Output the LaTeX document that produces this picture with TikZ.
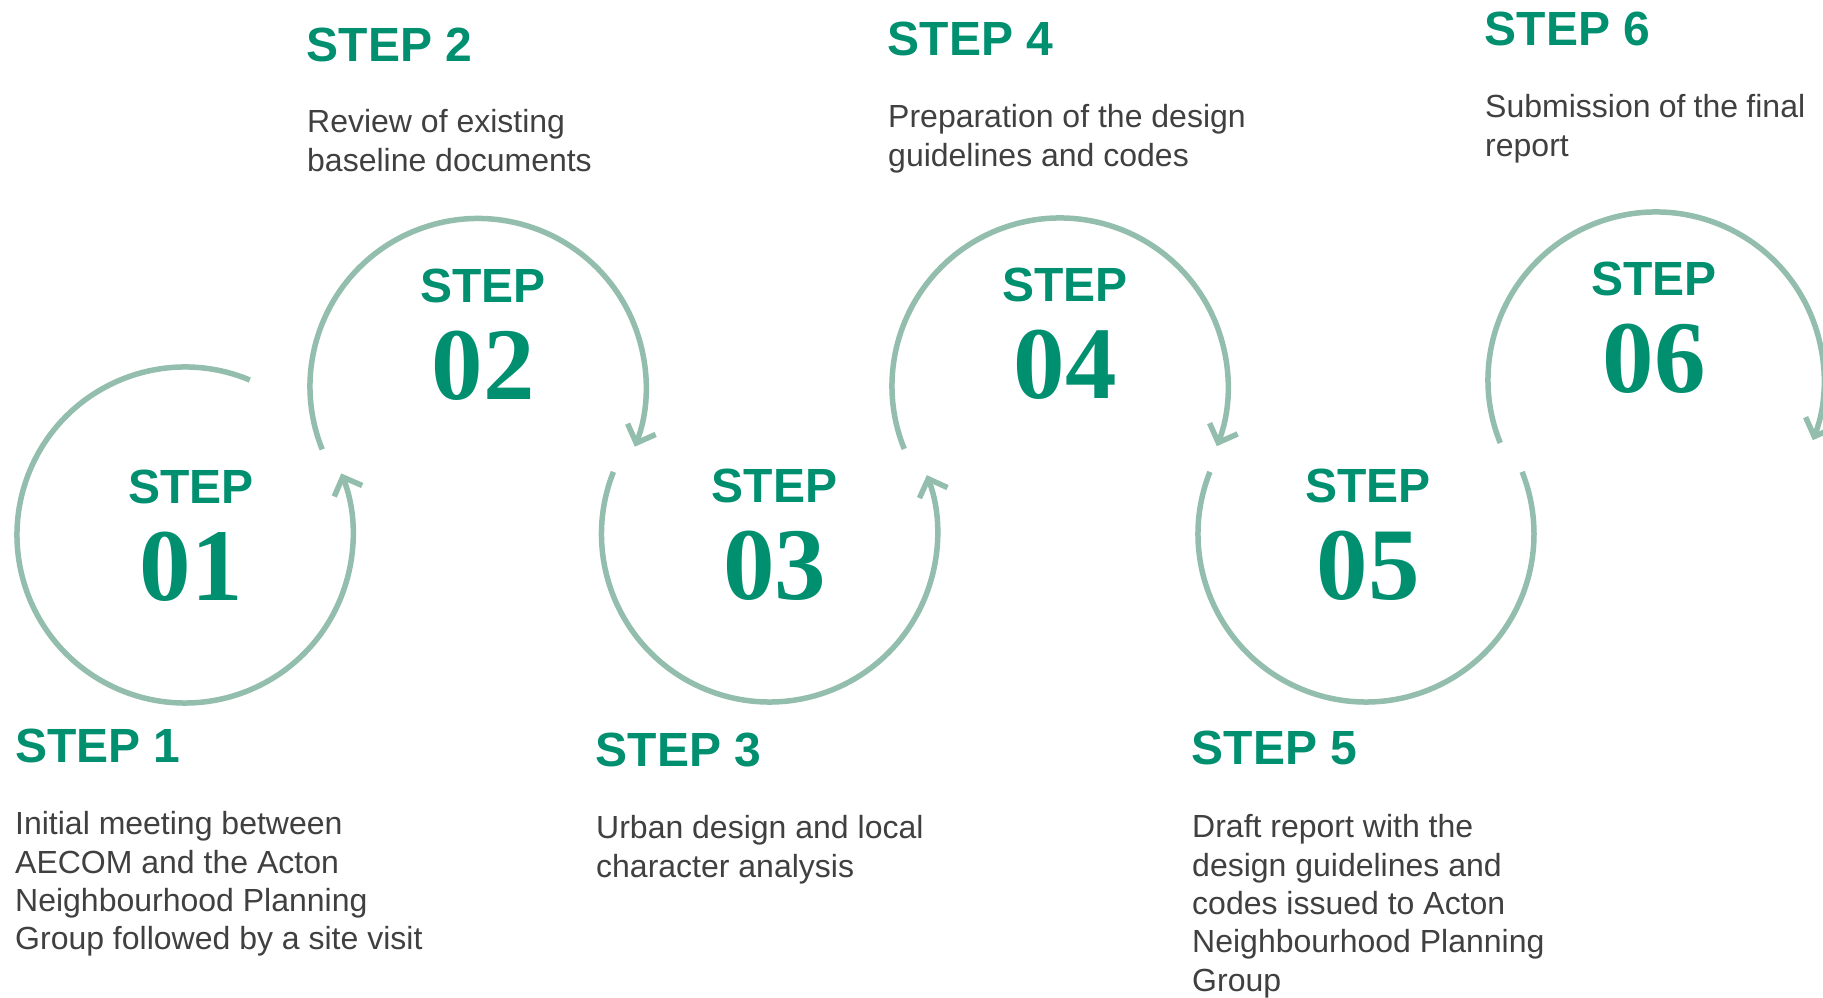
\documentclass[tikz,border=0pt]{standalone}
\usepackage{fontspec}
\setmainfont{Liberation Sans}
\newfontfamily\numfont{Liberation Serif}
\usetikzlibrary{arrows.meta,calc}
\definecolor{ring}{HTML}{93BEAE}
\definecolor{stepgreen}{HTML}{008F6F}
\definecolor{bodygray}{HTML}{404040}
\tikzset{
  ringline/.style={draw=ring, line width=5.5pt, line cap=butt},
  ringarrow/.style={ringline, -{Straight Barb[length=15pt, width=30pt, line cap=butt, line join=miter]}},
  headtext/.style={anchor=base west, inner sep=0pt, text=stepgreen, font=\fontsize{48}{48}\selectfont\bfseries},
  bodytext/.style={anchor=base west, inner sep=0pt, text=bodygray, font=\fontsize{32}{38.3}\selectfont},
  steplabel/.style={anchor=base, inner sep=0pt, text=stepgreen, font=\fontsize{48}{48}\selectfont\bfseries},
  numlabel/.style={anchor=base, inner sep=0pt, text=stepgreen, font=\numfont\fontsize{103}{103}\selectfont\bfseries},
}
\begin{document}
\begin{tikzpicture}[x=1pt, y=1pt]
\fill[white] (0,0) rectangle (1823,998);
\useasboundingbox (0,0) rectangle (1823,998);

% circle centres
\coordinate (c1) at (185,463);
\coordinate (c2) at (478,611.5);
\coordinate (c3) at (769.5,464);
\coordinate (c4) at (1060,612);
\coordinate (c5) at (1366,464);
\coordinate (c6) at (1656,618);

% arcs
\draw[ringarrow] (c1) ++(67.3:168) arc[start angle=67.3, end angle=381.5, radius=168];
\draw[ringarrow] (c2) ++(202:168) arc[start angle=202, end angle=-21, radius=168];
\draw[ringarrow] (c3) ++(158.3:168) arc[start angle=158.3, end angle=380.5, radius=168];
\draw[ringarrow] (c4) ++(202:168) arc[start angle=202, end angle=-21, radius=168];
\draw[ringline]  (c5) ++(158.3:168) arc[start angle=158.3, end angle=381.7, radius=168];
\draw[ringarrow] (c6) ++(202:168) arc[start angle=202, end angle=-21, radius=168];

% labels inside circles
\node[steplabel] (s1) at ($(c1)+(6,31)$) {STEP};
\node[numlabel]  (n1) at ($(c1)+(6,-66)$) {01};
\node[steplabel] (s2) at ($(c2)+(5,84)$) {STEP};
\node[numlabel]  (n2) at ($(c2)+(5,-13)$) {02};
\node[steplabel] (s3) at ($(c3)+(5,31)$) {STEP};
\node[numlabel]  (n3) at ($(c3)+(5,-66)$) {03};
\node[steplabel] (s4) at ($(c4)+(5,84)$) {STEP};
\node[numlabel]  (n4) at ($(c4)+(5,-13)$) {04};
\node[steplabel] (s5) at ($(c5)+(2,31)$) {STEP};
\node[numlabel]  (n5) at ($(c5)+(2,-66)$) {05};
\node[steplabel] (s6) at ($(c6)+(-2,84)$) {STEP};
\node[numlabel]  (n6) at ($(c6)+(-2,-13)$) {06};

% headings and descriptions
\node[headtext] (h1) at (15,235) {STEP 1};
\node[bodytext] (d1) at (15,163) {\parbox[t]{600pt}{\raggedright Initial meeting between\\AECOM and the Acton\\Neighbourhood Planning\\Group followed by a site visit}};

\node[headtext] (h2) at (306.5,936) {STEP 2};
\node[bodytext] (d2) at (307,865) {\parbox[t]{600pt}{\raggedright Review of existing\\baseline documents}};

\node[headtext] (h3) at (595.5,231) {STEP 3};
\node[bodytext] (d3) at (596,159) {\parbox[t]{600pt}{\raggedright Urban design and local\\character analysis}};

\node[headtext] (h4) at (887.5,942) {STEP 4};
\node[bodytext] (d4) at (888,870) {\parbox[t]{600pt}{\raggedright Preparation of the design\\guidelines and codes}};

\node[headtext] (h5) at (1191.5,233) {STEP 5};
\node[bodytext] (d5) at (1192,160) {\parbox[t]{600pt}{\raggedright Draft report with the\\design guidelines and\\codes issued to Acton\\Neighbourhood Planning\\Group}};

\node[headtext] (h6) at (1484.5,952) {STEP 6};
\node[bodytext] (d6) at (1485,880) {\parbox[t]{320pt}{\raggedright Submission of the final\\report}};
\end{tikzpicture}
\end{document}
